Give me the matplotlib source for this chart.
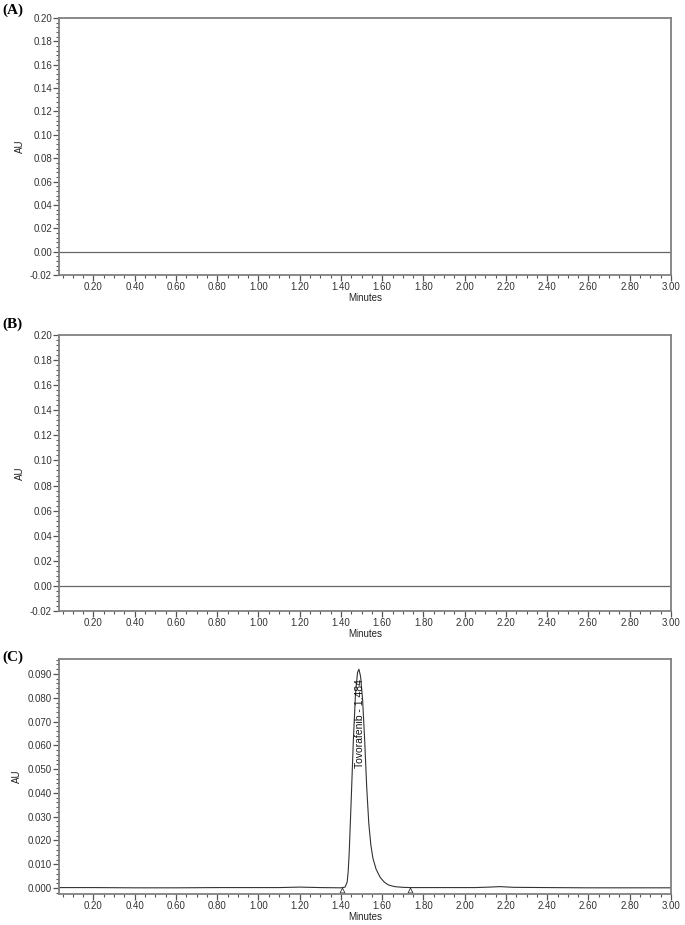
import numpy as np
import matplotlib
matplotlib.use("Agg")
import matplotlib.pyplot as plt
from matplotlib.ticker import MultipleLocator, FormatStrFormatter

plt.rcParams['font.family'] = ['Liberation Sans', 'DejaVu Sans']

# blank runs (A) and (B): flat baseline
blank_t = [0.033, 0.50, 1.00, 1.50, 2.00, 2.50, 3.00]
blank_au = [0.0, 0.0, 0.0, 0.0, 0.0, 0.0, 0.0]

# sample run (C)
sample_t = [0.033, 0.20, 0.40, 0.60, 0.80, 1.00, 1.10, 1.20, 1.30, 1.40, 1.42, 1.43, 1.435,
            1.44, 1.45, 1.46, 1.47, 1.48, 1.487, 1.495, 1.505, 1.515, 1.525, 1.535,
            1.545, 1.555, 1.57, 1.59, 1.61, 1.63, 1.66, 1.70, 1.74, 1.90, 2.05,
            2.12, 2.17, 2.24, 2.40, 2.60, 2.80, 3.00]
sample_au = [0.0002, 0.0002, 0.0001, 0.0001, 0.0002, 0.0002, 0.0002, 0.0004, 0.0002, 0.0001,
             0.0004, 0.0025, 0.0070, 0.0150, 0.0380, 0.0620, 0.0810, 0.0905, 0.0920,
             0.0890, 0.0790, 0.0620, 0.0420, 0.0270, 0.0180, 0.0125, 0.0080, 0.0045,
             0.0025, 0.0013, 0.0006, 0.0003, 0.0002, 0.0002, 0.0002, 0.0004, 0.0006,
             0.0003, 0.0002, 0.0001, 0.0001, 0.0001]
peak_name = "Tovorafenib - 1.484"
peak_rt = 1.49
peak_label_y = 0.0505
peak_marks_t = [1.405, 1.735]
peak_marks_au = [-0.0008, -0.0008]

x_ticks = np.arange(0.20, 3.01, 0.20)

fig = plt.figure(figsize=(6.85, 9.25), dpi=100)
W, H = 685, 925

def make_axes(top, bottom):
    return fig.add_axes([59 / W, 1 - bottom / H, (671 - 59) / W, (bottom - top) / H])

def style(ax, ylim, ymajor, yminor, fmt):
    ax.set_xlim(0.033, 3.0)
    ax.set_ylim(*ylim)
    ax.set_xticks(x_ticks)
    ax.xaxis.set_major_formatter(FormatStrFormatter('%.2f'))
    ax.xaxis.set_minor_locator(MultipleLocator(0.05))
    ax.yaxis.set_major_locator(MultipleLocator(ymajor))
    ax.yaxis.set_minor_locator(MultipleLocator(yminor))
    ax.yaxis.set_major_formatter(FormatStrFormatter(fmt))
    for s in ax.spines.values():
        s.set_color('#808080')
        s.set_linewidth(1.3)
    ax.tick_params(which='major', length=4, width=0.9, color='#555555',
                   labelsize=7, labelcolor='#333333', pad=1)
    ax.tick_params(which='minor', length=2, width=0.8, color='#555555')
    ax.set_xlabel('Minutes', fontsize=7, color='#222222', labelpad=1)
    ax.set_ylabel('AU', fontsize=7, color='#222222', labelpad=4)

axA = make_axes(18, 275)
axA.plot(blank_t, blank_au, color='#666666', lw=0.9)
style(axA, (-0.02, 0.20), 0.02, 0.004, '%.2f')

axB = make_axes(335, 611)
axB.plot(blank_t, blank_au, color='#666666', lw=0.9)
style(axB, (-0.02, 0.20), 0.02, 0.004, '%.2f')

axC = make_axes(659, 894)
axC.plot(sample_t, sample_au, color='#333333', lw=0.8)
axC.plot(peak_marks_t, peak_marks_au, linestyle='none', marker='^', ms=3.5,
         mfc='white', mec='#333333', mew=0.6)
axC.text(peak_rt, peak_label_y, peak_name, rotation=90, ha='center', va='bottom',
         fontsize=7.5, color='#111111')
style(axC, (-0.0025, 0.0963), 0.010, 0.002, '%.3f')

for lab, y in [('(A)', 10), ('(B)', 324), ('(C)', 657)]:
    fig.text(2 / W, 1 - y / H, lab, family='Liberation Serif', weight='bold',
             fontsize=11, va='center', ha='left')

fig.savefig('out.png', dpi=100)
